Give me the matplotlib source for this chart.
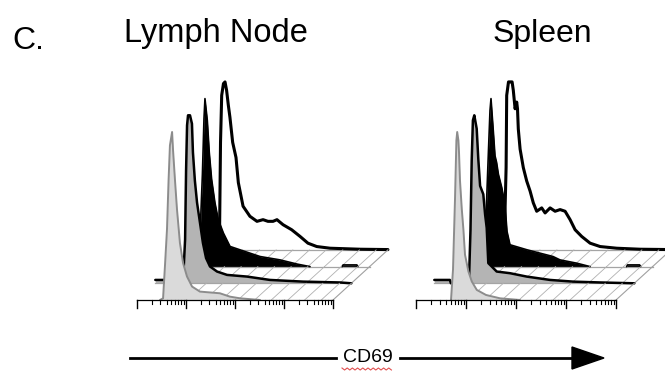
import numpy as np
import matplotlib
matplotlib.use("Agg")
import matplotlib.pyplot as plt
from matplotlib.patches import Polygon

plt.rcParams['font.family'] = ['Liberation Sans', 'DejaVu Sans']

# ---------------- data (channel 0-100 along the CD69 axis, height in % of mode) -------------
# Lymph node: trace 1 (front, light grey) ... trace 4 (back, open)
ln_t1_ch = [0, 11.7, 13.3, 14.3, 15.3, 16.1, 16.8, 17.9, 18.4, 19.4, 20.4, 21.9, 23.5, 25.5, 28.1, 32.1,
            42.3, 47.4, 52.6, 62.8, 100]
ln_t1_h = [0, 0, 1, 21, 42, 71, 92, 100, 89, 71, 54, 34, 22, 14, 8, 5, 4, 2, 1, 0, 0]

ln_t2_ch = [0, 5, 5.5, 14.1, 15.2, 15.7, 16.2, 16.7, 17.7, 18.7, 19.2, 20.2, 21.3, 22.8, 24.3, 25.9,
            27.9, 31.5, 36.6, 46.8, 58.5, 75.4, 94.2, 100]
ln_t2_h = [2, 2, 0, 0, 26, 67, 94, 100, 100, 95, 78, 61, 48, 36, 24, 15, 10, 7, 5, 4, 2, 1, 0.5, 0]

ln_t3_ch = [0, 13, 13.5, 14.7, 15.5, 16.0, 17.2, 18.2, 19.4, 21.1, 22.8, 25.4, 28.8, 36.4, 44.1, 54.3,
            63, 69.6, 86, 86.5, 93.5, 94, 100]
ln_t3_h = [0, 0, 19, 55, 88, 100, 87, 68, 52, 38, 28, 20, 12, 9, 6, 4, 1.5, 0, 0, 1, 1, 0, 0]

ln_t4_ch = [0, 12.8, 14.1, 14.6, 15.2, 16.1, 16.9, 17.7, 18.6, 19.4, 20.8, 22.5, 23.7, 26.1, 29.6, 33.2,
            36.3, 38.8, 41.4, 43.4, 46.5, 50.9, 55.2, 59.2, 63.7, 70.5, 85.8, 100]
ln_t4_h = [0, 0, 9, 64, 92, 99, 100, 95, 86, 79, 64, 55, 40, 26, 20, 17, 18, 17, 17, 18, 15, 12, 8, 4,
           2, 1, 0.4, 0.2]

# Spleen
sp_t1_ch = [0, 17.5, 18.5, 19.5, 20.2, 20.6, 21.2, 21.5, 22, 22.9, 23.7, 24.5, 26.2, 27.9, 30.4, 35,
            42, 52, 100]
sp_t1_h = [0, 0, 18, 60, 95, 100, 95, 88, 71, 54, 42, 27, 17, 11, 6, 3, 1, 0, 0]

sp_t2_ch = [0, 7.8, 8.3, 17.3, 18.1, 18.7, 19.3, 20, 21.2, 22, 22.9, 24.5, 25.4, 26.2, 27, 28.7, 31.2,
            37.9, 46.2, 57.9, 69.4, 83, 100]
sp_t2_h = [2, 2, 0, 0, 32, 73, 97, 100, 92, 74, 58, 53, 41, 33, 12, 10, 7, 6, 4, 2, 1, 0.5, 0]

sp_t3_ch = [0, 16.2, 17, 17.9, 18.7, 19.2, 20.4, 21.2, 22, 22.9, 24.6, 26.2, 27.2, 28.7, 37.2, 50.2,
            53.7, 62.2, 68.7, 87, 87.5, 93.5, 94, 100]
sp_t3_h = [0, 0, 39, 68, 93, 100, 80, 66, 62, 55, 47, 37, 21, 13, 10, 6, 4, 2, 0, 0, 1, 1, 0, 0]

sp_t4_ch = [0, 16.5, 17.1, 17.6, 17.9, 18.8, 19.9, 20.6, 21.2, 22.1, 22.9, 23.3, 23.7, 24.6, 26.2, 27.9,
            29.6, 31.2, 32.9, 35.4, 37.1, 39.6, 42.1, 44.6, 47.1, 49.6, 52.1, 55.4, 59.6, 64.6, 72.9,
            84.6, 100]
sp_t4_h = [0, 0, 25, 49, 92, 100, 100, 100, 95, 84, 88, 84, 72, 60, 49, 41, 35, 28, 23, 25, 22, 25, 23,
           24, 23, 18, 12, 8, 4, 2, 1, 0.4, 0.2]

panel_titles = ["Lymph Node", "Spleen"]
panel_label = "C."
axis_label = "CD69"

# ---------------- layout / style ----------------
W, H = 665, 374
Y0 = 300            # front baseline (px from top)
SY = 1.68           # px per % height
DX_PX, DY_PX = 18.3, 16.7   # offset between stacked histograms (px)

FILLS = ['#dadada', '#b4b4b4', 'black', 'white']
EDGES = ['#8c8c8c', 'black', 'black', 'black']
LWS = [1.4, 1.8, 1.2, 2.2]
HATCH = np.arange(26, 100, 8.5)

fig = plt.figure(figsize=(W / 100, H / 100), dpi=100)


def outline(x, y, h):
    ox, oy = [x[0]], [y[0]]
    for i in range(len(x) - 1):
        if h[i] > 0 or h[i + 1] > 0:
            ox.append(x[i + 1]); oy.append(y[i + 1])
        else:
            ox += [np.nan, x[i + 1]]; oy += [np.nan, y[i + 1]]
    return ox, oy


def draw_panel(x0, sx, chans, heights):
    xmin, xmax, ymin, ymax = -20, 150, -12, 150
    left = (x0 + xmin * sx) / W
    width = (xmax - xmin) * sx / W
    bottom = (H - (Y0 - ymin * SY)) / H
    height = (ymax - ymin) * SY / H
    ax = fig.add_axes([left, bottom, width, height])
    ax.set_xlim(xmin, xmax)
    ax.set_ylim(ymin, ymax)
    ax.axis('off')
    ax.patch.set_alpha(0)
    dx = DX_PX / sx
    dy = DY_PX / SY
    for k in range(3, -1, -1):
        xs = np.asarray(chans[k], float) + k * dx
        h = np.asarray(heights[k], float)
        base = k * dy
        zb = 10 * (4 - k)
        ax.fill_between(xs, base, base + h, color=FILLS[k], lw=0, zorder=zb + 1)
        ox, oy = outline(xs, base + h, h)
        ax.plot(ox, oy, color=EDGES[k], lw=LWS[k], zorder=zb + 3,
                solid_joinstyle='round', solid_capstyle='round')
        if k < 3:
            for c in HATCH:
                ax.plot([c + k * dx, c + (k + 1) * dx], [k * dy, (k + 1) * dy],
                        color='#b0b0b0', lw=0.6, zorder=zb - 5)
            ax.plot([100 + k * dx, 100 + (k + 1) * dx], [k * dy, (k + 1) * dy],
                    color='#a0a0a0', lw=0.8, zorder=zb - 5)
            ax.plot([(k + 1) * dx, 100 + (k + 1) * dx], [(k + 1) * dy] * 2,
                    color='#a4a4a4', lw=0.9, zorder=10 * (3 - k) + 2)
    # front axis with log-decade ticks
    ax.plot([0, 100], [0, 0], color='black', lw=0.9, zorder=50)
    decades = [0, 25, 50, 75, 100]
    minors = [d + 25 * np.log10(m) for d in decades[:-1] for m in range(2, 10)]
    for t in decades:
        ax.plot([t, t], [0, -4.5], color='black', lw=1.0, zorder=50)
    for t in minors:
        ax.plot([t, t], [0, -2.6], color='black', lw=0.8, zorder=50)
    return ax


draw_panel(137, 1.96, [ln_t1_ch, ln_t2_ch, ln_t3_ch, ln_t4_ch], [ln_t1_h, ln_t2_h, ln_t3_h, ln_t4_h])
draw_panel(416, 2.0, [sp_t1_ch, sp_t2_ch, sp_t3_ch, sp_t4_ch], [sp_t1_h, sp_t2_h, sp_t3_h, sp_t4_h])

# ---------------- text and arrow ----------------
ov = fig.add_axes([0, 0, 1, 1])
ov.set_xlim(0, W)
ov.set_ylim(H, 0)
ov.axis('off')
ov.patch.set_alpha(0)

ov.text(12, 49, panel_label, fontsize=23, ha='left', va='baseline')
ov.text(216, 42, panel_titles[0], fontsize=23.5, ha='center', va='baseline')
ov.text(542, 42, panel_titles[1], fontsize=23, ha='center', va='baseline')

ov.plot([130, 336], [358, 358], color='black', lw=2)
ov.plot([400, 575], [358, 358], color='black', lw=2)
ov.add_patch(Polygon([(572, 347), (604, 358), (572, 369)], closed=True, color='black'))
ov.text(368, 358, axis_label, fontsize=14, ha='center', va='center')
sq_x = np.arange(342, 394, 2.6)
sq_y = 369 + np.where(np.arange(len(sq_x)) % 2 == 0, -1.0, 1.0)
ov.plot(sq_x, sq_y, color='#e05050', lw=0.8)

fig.savefig("out.png", dpi=100)
